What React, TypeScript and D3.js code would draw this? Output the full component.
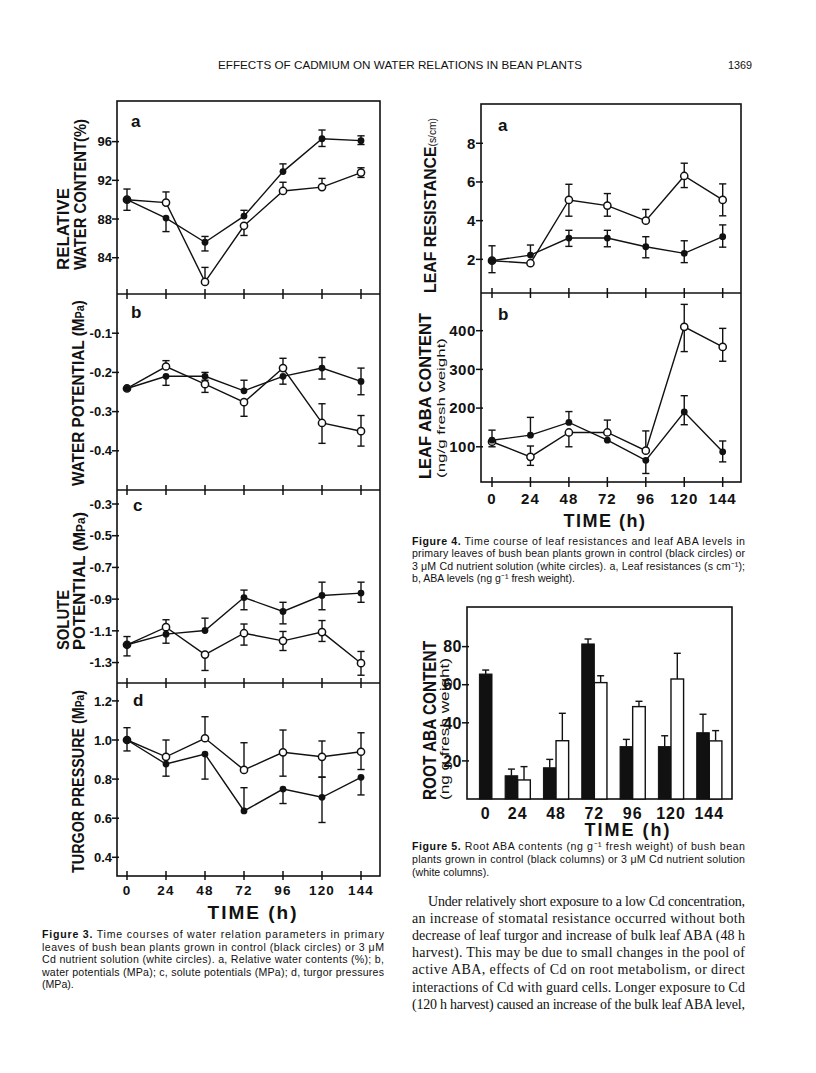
import React from 'react';
import * as d3 from 'd3';

const FONT = "'Liberation Sans', Arial, Helvetica, sans-serif";
const SERIF = "'Liberation Serif', 'Times New Roman', serif";

const hours = [0, 24, 48, 72, 96, 120, 144];

// Figure 3a relative water content (%)
const rwcCtrl = [90.0, 88.1, 85.6, 88.3, 92.9, 96.3, 96.1];
const rwcCtrlLo = [88.9, 86.7, 84.7, 88.3, 92.9, 95.5, 95.7];
const rwcCtrlHi = [91.1, 88.1, 86.2, 88.9, 93.7, 97.2, 96.6];
const rwcCd = [90.0, 89.7, 81.5, 87.3, 90.9, 91.3, 92.8];
const rwcCdLo = [90.0, 89.7, 81.5, 86.3, 90.9, 91.3, 92.3];
const rwcCdHi = [90.0, 90.8, 83.0, 87.3, 91.8, 92.2, 93.3];

// Figure 3b water potential (MPa)
const wpCtrl = [-0.241, -0.21, -0.21, -0.247, -0.21, -0.189, -0.223];
const wpCtrlLo = [-0.241, -0.233, -0.22, -0.247, -0.23, -0.217, -0.257];
const wpCtrlHi = [-0.241, -0.21, -0.2, -0.22, -0.21, -0.162, -0.189];
const wpCd = [-0.241, -0.185, -0.23, -0.276, -0.189, -0.329, -0.35];
const wpCdLo = [-0.241, -0.185, -0.251, -0.312, -0.189, -0.381, -0.388];
const wpCdHi = [-0.241, -0.17, -0.23, -0.276, -0.164, -0.28, -0.31];

// Figure 3c solute potential (MPa)
const spCtrl = [-1.188, -1.121, -1.098, -0.89, -0.978, -0.877, -0.862];
const spCtrlLo = [-1.258, -1.178, -1.098, -0.967, -1.056, -0.967, -0.92];
const spCtrlHi = [-1.136, -1.121, -1.02, -0.843, -0.92, -0.793, -0.793];
const spCd = [-1.188, -1.077, -1.25, -1.115, -1.163, -1.108, -1.304];
const spCdLo = [-1.188, -1.077, -1.35, -1.19, -1.224, -1.167, -1.38];
const spCdHi = [-1.188, -1.03, -1.25, -1.057, -1.104, -1.035, -1.23];

// Figure 3d turgor pressure (MPa)
const tpCtrl = [1.0, 0.877, 0.928, 0.637, 0.749, 0.707, 0.809];
const tpCtrlLo = [0.944, 0.815, 0.8, 0.637, 0.675, 0.578, 0.719];
const tpCtrlHi = [1.063, 0.877, 0.928, 0.756, 0.749, 0.81, 0.809];
const tpCd = [1.0, 0.914, 1.009, 0.847, 0.937, 0.914, 0.94];
const tpCdLo = [1.0, 0.914, 1.009, 0.847, 0.815, 0.81, 0.849];
const tpCdHi = [1.0, 1.0, 1.119, 0.986, 1.051, 0.995, 1.037];

// Figure 4a leaf resistance (s/cm)
const lrCtrl = [1.93, 2.22, 3.1, 3.1, 2.65, 2.31, 3.17];
const lrCtrlLo = [1.31, 2.22, 2.67, 2.65, 2.08, 1.83, 2.63];
const lrCtrlHi = [2.7, 2.74, 3.5, 3.5, 3.17, 2.96, 3.78];
const lrCd = [1.93, 1.8, 5.07, 4.78, 4.0, 6.31, 5.07];
const lrCdLo = [1.93, 1.8, 4.23, 4.23, 4.0, 5.71, 4.25];
const lrCdHi = [1.93, 1.8, 5.88, 5.4, 4.58, 6.97, 5.9];

// Figure 4b leaf ABA (ng/g fresh weight)
const abaCtrl = [117, 130, 163, 117, 65, 190, 87];
const abaCtrlLo = [100, 130, 163, 117, 31, 157, 61];
const abaCtrlHi = [143, 176, 191, 117, 65, 232, 115];
const abaCd = [113, 74, 137, 137, 90, 410, 358];
const abaCdLo = [113, 52, 100, 137, 90, 346, 321];
const abaCdHi = [113, 102, 137, 169, 141, 468, 406];

// Figure 5 root ABA (ng/g fresh weight)
const rootCtrl = [65.6, 12.2, 16.4, 81.4, 27.5, 27.5, 34.8];
const rootCtrlErr = [67.7, 15.7, 20.8, 84, 31.3, 33.2, 44.5];
const rootCd: (number | null)[] = [null, 10, 30.6, 61.1, 48.5, 63, 30.5];
const rootCdErr: (number | null)[] = [null, 17, 45, 64.7, 51.3, 76.5, 35.9];

const header = 'EFFECTS OF CADMIUM ON WATER RELATIONS IN BEAN PLANTS';
const pageNo = '1369';

const cap3 = [
  ['Figure 3.', ' Time courses of water relation parameters in primary'],
  ['', 'leaves of bush bean plants grown in control (black circles) or 3 \u03bcM'],
  ['', 'Cd nutrient solution (white circles). a, Relative water contents (%); b,'],
  ['', 'water potentials (MPa); c, solute potentials (MPa); d, turgor pressures'],
  ['', '(MPa).'],
];
const cap4 = [
  ['Figure 4.', ' Time course of leaf resistances and leaf ABA levels in'],
  ['', 'primary leaves of bush bean plants grown in control (black circles) or'],
  ['', '3 \u03bcM Cd nutrient solution (white circles). a, Leaf resistances (s cm\u207b\u00b9);'],
  ['', 'b, ABA levels (ng g\u207b\u00b9 fresh weight).'],
];
const cap5 = [
  ['Figure 5.', ' Root ABA contents (ng g\u207b\u00b9 fresh weight) of bush bean'],
  ['', 'plants grown in control (black columns) or 3 \u03bcM Cd nutrient solution'],
  ['', '(white columns).'],
];
const body = [
  'Under relatively short exposure to a low Cd concentration,',
  'an increase of stomatal resistance occurred without both',
  'decrease of leaf turgor and increase of bulk leaf ABA (48 h',
  'harvest). This may be due to small changes in the pool of',
  'active ABA, effects of Cd on root metabolism, or direct',
  'interactions of Cd with guard cells. Longer exposure to Cd',
  '(120 h harvest) caused an increase of the bulk leaf ABA level,',
];

type S = { v: number[]; lo: number[]; hi: number[] };

function Series({ x, y, ctrl, cd }: { x: any; y: any; ctrl: S; cd: S }) {
  const line = d3.line<number>().x((_, i) => x(hours[i])).y((d) => y(d));
  const err = (s: S, key: string) =>
    s.v.map((v, i) => {
      const lo = s.lo[i], hi = s.hi[i];
      if (lo === hi) return null;
      const cx = x(hours[i]);
      return (
        <g key={key + i} stroke="#111" strokeWidth={1.4}>
          <line x1={cx} x2={cx} y1={y(lo)} y2={y(hi)} />
          {lo !== v && <line x1={cx - 3.6} x2={cx + 3.6} y1={y(lo)} y2={y(lo)} />}
          {hi !== v && <line x1={cx - 3.6} x2={cx + 3.6} y1={y(hi)} y2={y(hi)} />}
        </g>
      );
    });
  return (
    <g>
      <path d={line(ctrl.v) || ''} fill="none" stroke="#111" strokeWidth={1.4} />
      <path d={line(cd.v) || ''} fill="none" stroke="#111" strokeWidth={1.4} />
      {err(ctrl, 'ec')}
      {err(cd, 'ed')}
      {cd.v.map((v, i) => (
        <circle key={'o' + i} cx={x(hours[i])} cy={y(v)} r={3.6} fill="#fff" stroke="#111" strokeWidth={1.5} />
      ))}
      {ctrl.v.map((v, i) => (
        <circle key={'f' + i} cx={x(hours[i])} cy={y(v)} r={3.4} fill="#111" />
      ))}
    </g>
  );
}

function YTicks({ y, ticks, axisX, fmt, size, ls = 0 }: any) {
  return (
    <g>
      {ticks.map((t: number) => (
        <g key={t}>
          <line x1={axisX - 5} x2={axisX + 2} y1={y(t)} y2={y(t)} stroke="#111" strokeWidth={1.5} />
          <text x={axisX - 5} y={y(t) + size * 0.36} textAnchor="end" fontFamily={FONT} fontWeight="bold" fontSize={size} letterSpacing={ls} fill="#111">
            {fmt(t)}
          </text>
        </g>
      ))}
    </g>
  );
}

function XTickMarks({ x, yLine, up = 5, down = 5 }: any) {
  return (
    <g>
      {hours.map((h) => (
        <line key={h} x1={x(h)} x2={x(h)} y1={yLine - up} y2={yLine + down} stroke="#111" strokeWidth={1.5} />
      ))}
    </g>
  );
}

function VText({ bx, by, len, size, children, weight = 'bold' }: any) {
  return (
    <text transform={`translate(${bx},${by}) rotate(-90)`} fontFamily={FONT} fontWeight={weight} fontSize={size} textLength={len} lengthAdjust="spacingAndGlyphs" fill="#111">
      {children}
    </text>
  );
}

function Caption({ lines, x0, x1, y0, dy }: any) {
  return (
    <g>
      {lines.map((l: string[], i: number) => (
        <text key={i} x={x0} y={y0 + i * dy} fontFamily={FONT} fontSize={10.6} fill="#111"
          {...(i < lines.length - 1 ? { textLength: x1 - x0, lengthAdjust: 'spacing' } : {})}>
          {l[0] && <tspan fontWeight="bold">{l[0]}</tspan>}
          <tspan>{l[1]}</tspan>
        </text>
      ))}
    </g>
  );
}

const f1 = (d: number) => d.toFixed(1);

export default function App() {
  // Figure 3 geometry
  const f3L = 117, f3R = 380;
  const x3 = d3.scaleLinear().domain([0, 144]).range([127, 361]);
  const p3 = [
    { top: 101, bot: 294, dom: [80.25, 100.2], ticks: [84, 88, 92, 96], fmt: (d: number) => String(d), letter: 'a',
      ctrl: { v: rwcCtrl, lo: rwcCtrlLo, hi: rwcCtrlHi }, cd: { v: rwcCd, lo: rwcCdLo, hi: rwcCdHi } },
    { top: 294, bot: 490, dom: [-0.5, 0], ticks: [-0.4, -0.3, -0.2, -0.1], fmt: f1, letter: 'b',
      ctrl: { v: wpCtrl, lo: wpCtrlLo, hi: wpCtrlHi }, cd: { v: wpCd, lo: wpCdLo, hi: wpCdHi } },
    { top: 490, bot: 683, dom: [-1.429, -0.2117], ticks: [-1.3, -1.1, -0.9, -0.7, -0.5, -0.3], fmt: f1, letter: 'c',
      ctrl: { v: spCtrl, lo: spCtrlLo, hi: spCtrlHi }, cd: { v: spCd, lo: spCdLo, hi: spCdHi } },
    { top: 683, bot: 876, dom: [0.3043, 1.2916], ticks: [0.4, 0.6, 0.8, 1.0, 1.2], fmt: f1, letter: 'd',
      ctrl: { v: tpCtrl, lo: tpCtrlLo, hi: tpCtrlHi }, cd: { v: tpCd, lo: tpCdLo, hi: tpCdHi } },
  ];

  // Figure 4 geometry
  const f4L = 481, f4R = 741;
  const x4 = d3.scaleLinear().domain([0, 144]).range([492, 722.7]);
  const p4 = [
    { top: 104, bot: 293, dom: [0.26, 10.03], ticks: [2, 4, 6, 8], letter: 'a',
      ctrl: { v: lrCtrl, lo: lrCtrlLo, hi: lrCtrlHi }, cd: { v: lrCd, lo: lrCdLo, hi: lrCdHi } },
    { top: 293, bot: 482, dom: [9, 497.4], ticks: [100, 200, 300, 400], letter: 'b',
      ctrl: { v: abaCtrl, lo: abaCtrlLo, hi: abaCtrlHi }, cd: { v: abaCd, lo: abaCdLo, hi: abaCdHi } },
  ];

  // Figure 5 geometry
  const f5 = { l: 467, r: 732, t: 607, b: 799 };
  const x5 = d3.scaleLinear().domain([0, 144]).range([479.4, 709.3]);
  const y5 = d3.scaleLinear().domain([0, 100.8]).range([f5.b, f5.t]);
  const bw = 12.6;

  return (
    <svg width={816} height={1073} style={{ position: 'absolute', left: 0, top: 0, background: '#fff' }}>
      <rect x={0} y={0} width={816} height={1073} fill="#fff" />
      {/* header */}
      <text x={218} y={69} fontFamily={FONT} fontSize={10.8} fill="#111" textLength={364} lengthAdjust="spacingAndGlyphs">{header}</text>
      <text x={752} y={69} fontFamily={FONT} fontSize={10.8} fill="#111" textAnchor="end">{pageNo}</text>

      {/* ===== Figure 3 ===== */}
      <rect x={f3L} y={101} width={f3R - f3L} height={876 - 101} fill="none" stroke="#111" strokeWidth={1.6} />
      {p3.map((p, k) => {
        const y = d3.scaleLinear().domain(p.dom).range([p.bot, p.top]);
        return (
          <g key={k}>
            {k > 0 && <line x1={f3L} x2={f3R} y1={p.top} y2={p.top} stroke="#111" strokeWidth={1.6} />}
            <XTickMarks x={x3} yLine={p.bot} up={5} down={k === 3 ? 4 : 5} />
            <YTicks y={y} ticks={p.ticks} axisX={f3L} fmt={p.fmt} size={13} />
            <text x={k < 2 ? 131 : 133} y={p.top + (k === 0 ? 26 : k === 1 ? 24 : k === 2 ? 21 : 23)} fontFamily={FONT} fontWeight="bold" fontSize={17} fill="#111">{p.letter}</text>
            <Series x={x3} y={y} ctrl={p.ctrl} cd={p.cd} />
          </g>
        );
      })}
      {hours.map((h) => (
        <text key={h} x={x3(h)} y={895} textAnchor="middle" fontFamily={FONT} fontWeight="bold" fontSize={13.5} letterSpacing={1.2} fill="#111">{h}</text>
      ))}
      <text x={253} y={919} textAnchor="middle" fontFamily={FONT} fontWeight="bold" fontSize={19} letterSpacing={2} fill="#111">TIME (h)</text>
      <VText bx={69} by={270} len={82} size={17}>RELATIVE</VText>
      <VText bx={86} by={270} len={151} size={17}>WATER CONTENT(%)</VText>
      <VText bx={84} by={486} len={186} size={17}>WATER POTENTIAL (M<tspan fontSize={12}>Pa</tspan>)</VText>
      <VText bx={69} by={650} len={60} size={17}>SOLUTE</VText>
      <VText bx={85} by={650} len={138} size={17}>POTENTIAL (M<tspan fontSize={12}>Pa</tspan>)</VText>
      <VText bx={84} by={873} len={183} size={17}>TURGOR PRESSURE (M<tspan fontSize={12}>Pa</tspan>)</VText>
      <Caption lines={cap3} x0={42} x1={384} y0={938} dy={12.6} />

      {/* ===== Figure 4 ===== */}
      <rect x={f4L} y={104} width={f4R - f4L} height={482 - 104} fill="none" stroke="#111" strokeWidth={1.6} />
      {p4.map((p, k) => {
        const y = d3.scaleLinear().domain(p.dom).range([p.bot, p.top]);
        return (
          <g key={k}>
            {k > 0 && <line x1={f4L} x2={f4R} y1={p.top} y2={p.top} stroke="#111" strokeWidth={1.6} />}
            <XTickMarks x={x4} yLine={p.bot} up={5} down={5} />
            <YTicks y={y} ticks={p.ticks} axisX={f4L} fmt={(d: number) => String(d)} size={15} ls={0.6} />
            <text x={498} y={p.top + 27} fontFamily={FONT} fontWeight="bold" fontSize={17} fill="#111">{p.letter}</text>
            <Series x={x4} y={y} ctrl={p.ctrl} cd={p.cd} />
          </g>
        );
      })}
      {hours.map((h) => (
        <text key={h} x={x4(h)} y={504} textAnchor="middle" fontFamily={FONT} fontWeight="bold" fontSize={15} letterSpacing={1} fill="#111">{h}</text>
      ))}
      <text x={605} y={527} textAnchor="middle" fontFamily={FONT} fontWeight="bold" fontSize={18} letterSpacing={1.5} fill="#111">TIME (h)</text>
      <VText bx={436} by={293} len={175} size={17}>LEAF RESISTANCE<tspan fontSize={11} fontWeight="normal">(s/cm)</tspan></VText>
      <VText bx={431} by={479} len={166} size={17}>LEAF ABA CONTENT</VText>
      <VText bx={445} by={478} len={140} size={11.5} weight="normal">(ng/g fresh weight)</VText>
      <Caption lines={cap4} x0={412} x1={745} y0={544.5} dy={12.6} />

      {/* ===== Figure 5 ===== */}
      <rect x={f5.l} y={f5.t} width={f5.r - f5.l} height={f5.b - f5.t} fill="none" stroke="#111" strokeWidth={1.6} />
      <YTicks y={y5} ticks={[20, 40, 60, 80]} axisX={f5.l} fmt={(d: number) => String(d)} size={16} ls={0.5} />
      {hours.map((h, i) => {
        const cx = x5(h);
        const single = rootCd[i] == null;
        const bx = single ? cx : cx - bw;
        const wv = rootCd[i];
        const we = rootCdErr[i];
        return (
          <g key={h}>
            <rect x={bx} y={y5(rootCtrl[i])} width={bw} height={y5(0) - y5(rootCtrl[i])} fill="#111" stroke="#111" strokeWidth={1} />
            <line x1={bx + bw / 2} x2={bx + bw / 2} y1={y5(rootCtrl[i])} y2={y5(rootCtrlErr[i])} stroke="#111" strokeWidth={1.4} />
            <line x1={bx + bw / 2 - 3.5} x2={bx + bw / 2 + 3.5} y1={y5(rootCtrlErr[i])} y2={y5(rootCtrlErr[i])} stroke="#111" strokeWidth={1.4} />
            {wv != null && we != null && (
              <g>
                <line x1={cx + bw / 2} x2={cx + bw / 2} y1={y5(wv)} y2={y5(we)} stroke="#111" strokeWidth={1.4} />
                <line x1={cx + bw / 2 - 3.5} x2={cx + bw / 2 + 3.5} y1={y5(we)} y2={y5(we)} stroke="#111" strokeWidth={1.4} />
                <rect x={cx} y={y5(wv)} width={bw} height={y5(0) - y5(wv)} fill="#fff" stroke="#111" strokeWidth={1.4} />
              </g>
            )}
            <text x={single ? cx + bw / 2 : cx} y={819} textAnchor="middle" fontFamily={FONT} fontWeight="bold" fontSize={16} letterSpacing={1} fill="#111">{h}</text>
          </g>
        );
      })}
      <text x={628} y={836} textAnchor="middle" fontFamily={FONT} fontWeight="bold" fontSize={18} letterSpacing={2} fill="#111">TIME (h)</text>
      <VText bx={436} by={800} len={159} size={18}>ROOT ABA CONTENT</VText>
      <VText bx={449} by={800} len={142} size={12} weight="normal">(ng g fresh weight)</VText>
      <Caption lines={cap5} x0={412} x1={745} y0={850} dy={12.8} />

      {/* body text */}
      {body.map((l, i) => (
        <text key={i} x={i === 0 ? 428 : 412} y={905.5 + i * 17.2} fontFamily={SERIF} fontSize={14} fill="#111"
          textLength={i === 0 ? 317 : 333} lengthAdjust="spacing">{l}</text>
      ))}
    </svg>
  );
}
